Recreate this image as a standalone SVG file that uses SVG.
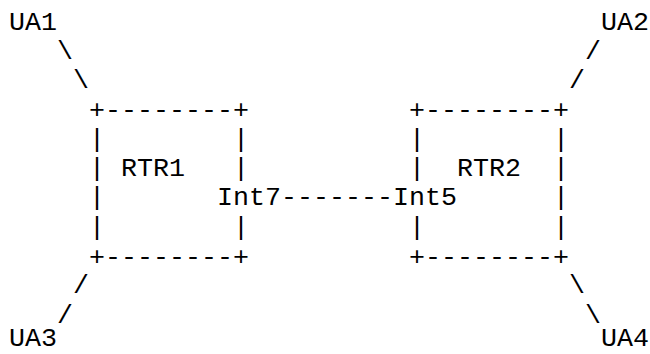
<svg xmlns="http://www.w3.org/2000/svg" width="650" height="354" viewBox="0 0 650 354">
<style>
text { font-family: "Liberation Mono", "DejaVu Sans Mono", monospace; font-size: 26.67px; fill: #000; white-space: pre; }
</style>
<rect width="650" height="354" fill="#fff"/>
<g id="UA1"><text x="9" y="29.5">UA1</text></g>
<g id="UA2"><text x="601" y="29.5">UA2</text></g>
<g id="UA3"><text x="9" y="345.5">UA3</text></g>
<g id="UA4"><text x="601" y="345.5">UA4</text></g>
<g id="RTR1">
<text x="89" y="118.4" xml:space="preserve">+--------+</text>
<text x="89" y="146.7" xml:space="preserve">|        |</text>
<text x="89" y="176.0" xml:space="preserve">| RTR1   |</text>
<text x="89" y="205.3">|</text>
<text x="217" y="205.3">Int7</text>
<text x="89" y="234.6" xml:space="preserve">|        |</text>
<text x="89" y="264.9" xml:space="preserve">+--------+</text>
</g>
<g id="RTR2">
<text x="409" y="118.4" xml:space="preserve">+--------+</text>
<text x="409" y="146.7" xml:space="preserve">|        |</text>
<text x="409" y="176.0" xml:space="preserve">|  RTR2  |</text>
<text x="393" y="205.3">Int5</text>
<text x="553" y="205.3">|</text>
<text x="409" y="234.6" xml:space="preserve">|        |</text>
<text x="409" y="264.9" xml:space="preserve">+--------+</text>
</g>
<g id="connectors">
<text x="57" y="58.8">\</text>
<text x="73" y="88.1">\</text>
<text x="585" y="58.8">/</text>
<text x="569" y="88.1">/</text>
<text x="73" y="293.2">/</text>
<text x="57" y="322.5">/</text>
<text x="569" y="293.2">\</text>
<text x="585" y="322.5">\</text>
<text x="281" y="205.3">-------</text>
</g>
</svg>
